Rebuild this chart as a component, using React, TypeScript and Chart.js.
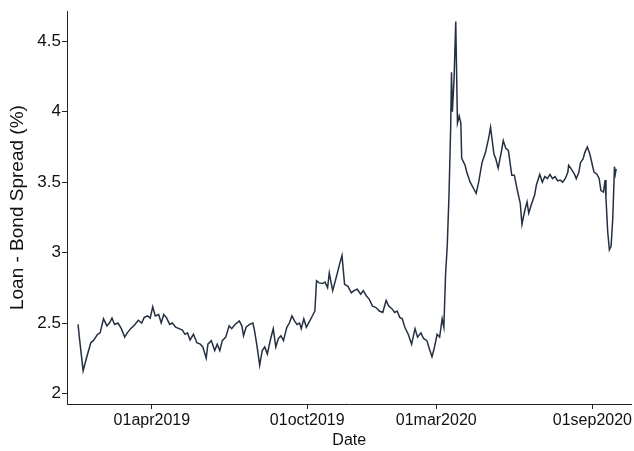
import React, { useEffect, useRef } from "react";
import { Chart, registerables } from "chart.js";

Chart.register(...registerables);

// Days counted from START_DATE
const START_DATE = "2019-01-01";

const DAYS = [
  3, 5, 9, 12, 18, 21, 26, 29, 33, 37, 40, 43, 46, 50, 54, 58, 61, 65, 70, 74,
  78, 81, 85, 88, 91, 94, 98, 101, 104, 107, 111, 114, 118, 122, 126, 129, 132, 135, 139, 143,
  147, 150, 154, 156, 160, 164, 167, 170, 173, 177, 181, 184, 188, 193, 196, 198, 201, 205, 209, 211,
  214, 217, 220, 223, 226, 230, 233, 236, 239, 242, 245, 249, 252, 255, 258, 261, 264, 266, 269, 272,
  276, 279, 282, 284, 287, 291, 294, 297, 299, 303, 307, 311, 314, 317, 321, 325, 328, 332, 336, 339,
  343, 346, 350, 354, 358, 362, 366, 369, 373, 376, 379, 382, 385, 388, 392, 396, 400, 403, 407, 410,
  414, 417, 420, 423, 426, 429, 432, 434, 436, 438, 440, 442, 443, 444, 446, 448, 450, 452, 454, 455,
  459, 461, 465, 469, 472, 475, 479, 483, 487, 489, 493, 495, 498, 502, 504, 507, 510, 514, 517, 521,
  524, 526, 529, 532, 534, 537, 541, 543, 547, 550, 553, 556, 559, 562, 565, 568, 571, 574, 577, 580,
  581, 584, 588, 590, 593, 595, 598, 600, 603, 606, 609, 611, 614, 617, 619, 622, 624, 625, 627, 629,
  631, 633, 635, 636, 637,
];

const SPREAD = [
  2.49, 2.375, 2.16, 2.23, 2.36, 2.375, 2.42, 2.43, 2.53, 2.48, 2.5, 2.535, 2.49, 2.5, 2.46, 2.4, 2.43, 2.46, 2.49, 2.52,
  2.5, 2.54, 2.55, 2.535, 2.615, 2.55, 2.56, 2.5, 2.56, 2.54, 2.49, 2.5, 2.47, 2.46, 2.45, 2.42, 2.43, 2.38, 2.42, 2.36,
  2.35, 2.33, 2.25, 2.35, 2.375, 2.305, 2.35, 2.305, 2.375, 2.4, 2.48, 2.46, 2.49, 2.515, 2.48, 2.41, 2.47, 2.49, 2.5, 2.445,
  2.33, 2.2, 2.305, 2.33, 2.28, 2.39, 2.46, 2.33, 2.39, 2.41, 2.375, 2.47, 2.5, 2.55, 2.515, 2.49, 2.5, 2.46, 2.53, 2.47,
  2.515, 2.55, 2.585, 2.8, 2.785, 2.78, 2.79, 2.75, 2.855, 2.73, 2.82, 2.915, 2.98, 2.775, 2.76, 2.715, 2.73, 2.74, 2.705, 2.73,
  2.69, 2.67, 2.62, 2.61, 2.585, 2.575, 2.66, 2.62, 2.6, 2.575, 2.585, 2.54, 2.53, 2.47, 2.42, 2.35, 2.46, 2.4, 2.43, 2.39,
  2.375, 2.315, 2.26, 2.33, 2.42, 2.4, 2.53, 2.47, 2.845, 3.05, 3.4, 3.88, 4.28, 4.0, 4.23, 4.64, 3.92, 3.97, 3.92, 3.67,
  3.62, 3.57, 3.5, 3.455, 3.42, 3.5, 3.64, 3.71, 3.82, 3.89, 3.7, 3.67, 3.6, 3.725, 3.795, 3.74, 3.725, 3.55, 3.55, 3.43,
  3.35, 3.2, 3.29, 3.36, 3.28, 3.34, 3.41, 3.48, 3.555, 3.5, 3.54, 3.525, 3.555, 3.525, 3.54, 3.51, 3.515, 3.5, 3.525, 3.57,
  3.62, 3.595, 3.555, 3.525, 3.57, 3.64, 3.665, 3.71, 3.75, 3.7, 3.62, 3.57, 3.56, 3.525, 3.44, 3.43, 3.515, 3.385, 3.15, 3.02,
  3.045, 3.245, 3.61, 3.56, 3.595,
];

const Y_TICKS = [2, 2.5, 3, 3.5, 4, 4.5];
const Y_MIN = 1.925;
const Y_MAX = 4.714;

const X_TICK_DATES = ["2019-04-01", "2019-10-01", "2020-03-01", "2020-09-01"];
const X_TICK_LABELS = ["01apr2019", "01oct2019", "01mar2020", "01sep2020"];
const X_MIN_DATE = "2018-12-22";
const X_MAX_DATE = "2020-10-17";

const Y_TITLE = "Loan - Bond Spread (%)";
const X_TITLE = "Date";

const dayOf = (s: string) =>
  Math.round((Date.parse(s) - Date.parse(START_DATE)) / 86400000);

const FONT_FAMILY = "'Liberation Sans', Arial, Helvetica, sans-serif";

export default function App() {
  const canvasRef = useRef<HTMLCanvasElement | null>(null);

  useEffect(() => {
    if (!canvasRef.current) return;
    const points = DAYS.map((d, i) => ({ x: d, y: SPREAD[i] }));
    const chart = new Chart(canvasRef.current, {
      type: "line",
      data: {
        datasets: [
          {
            data: points,
            borderColor: "#243042",
            borderWidth: 1.5,
            pointRadius: 0,
            tension: 0,
            fill: false,
          },
        ],
      },
      options: {
        animation: false,
        responsive: false,
        devicePixelRatio: 1,
        layout: { padding: { top: 8, left: 0, right: 0, bottom: 0 }, autoPadding: false },
        plugins: { legend: { display: false }, tooltip: { enabled: false } },
        scales: {
          x: {
            type: "linear",
            min: dayOf(X_MIN_DATE),
            max: dayOf(X_MAX_DATE),
            afterBuildTicks: (s: any) => {
              s.ticks = X_TICK_DATES.map((d) => ({ value: dayOf(d) }));
            },
            afterFit: (s: any) => {
              s.height = 47;
            },
            ticks: {
              autoSkip: false,
              maxRotation: 0,
              minRotation: 0,
              padding: 2,
              color: "#111",
              font: { family: FONT_FAMILY, size: 16 },
              callback: (_v: any, i: number) => X_TICK_LABELS[i],
            },
            grid: {
              drawOnChartArea: false,
              drawTicks: true,
              tickLength: 5,
              color: "#222",
              tickColor: "#222",
            },
            border: { display: true, color: "#222", width: 1 },
            title: {
              display: true,
              text: X_TITLE,
              color: "#111",
              font: { family: FONT_FAMILY, size: 16 },
              padding: { top: 0, bottom: 1 },
            },
          },
          y: {
            type: "linear",
            min: Y_MIN,
            max: Y_MAX,
            afterBuildTicks: (s: any) => {
              s.ticks = Y_TICKS.map((v) => ({ value: v }));
            },
            afterFit: (s: any) => {
              s.width = 67;
            },
            ticks: {
              padding: 1,
              color: "#111",
              font: { family: FONT_FAMILY, size: 17 },
              callback: (v: any) => String(v),
            },
            grid: {
              drawOnChartArea: false,
              drawTicks: true,
              tickLength: 5,
              color: "#222",
              tickColor: "#222",
            },
            border: { display: true, color: "#222", width: 1 },
            title: {
              display: true,
              text: Y_TITLE,
              color: "#111",
              font: { family: FONT_FAMILY, size: 19 },
              padding: { top: 6, bottom: 0 },
            },
          },
        },
      },
    } as any);
    return () => chart.destroy();
  }, []);

  return (
    <div style={{ position: "fixed", left: 0, top: 0, width: 634, height: 451, background: "#fff" }}>
      <canvas ref={canvasRef} width={634} height={451} style={{ display: "block" }} />
    </div>
  );
}
